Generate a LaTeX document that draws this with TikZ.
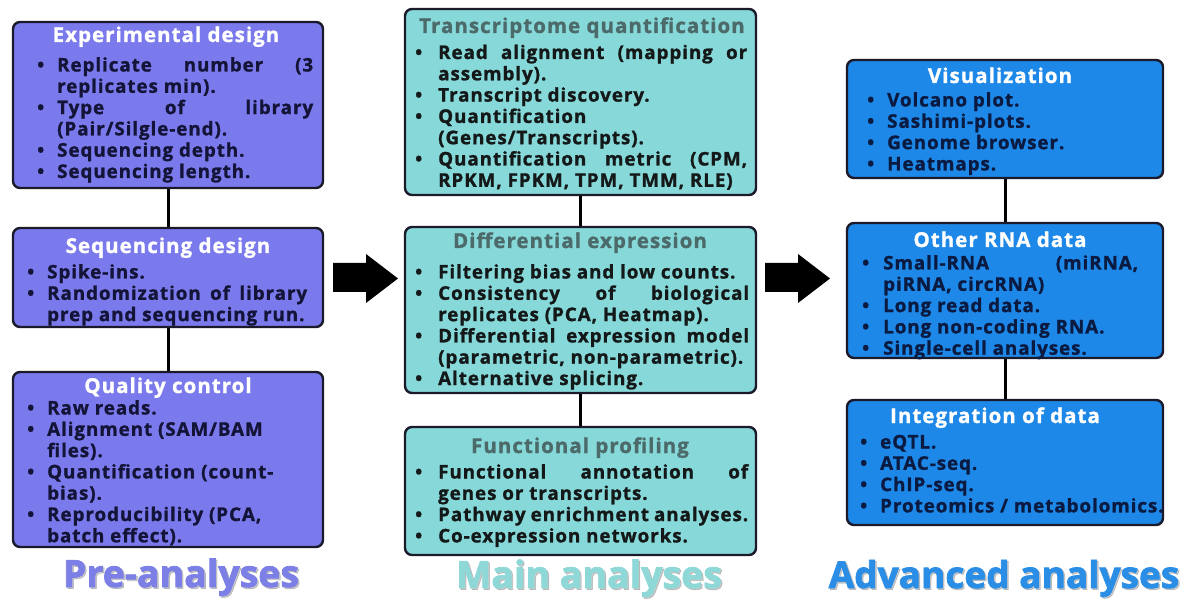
\documentclass[tikz,border=0pt]{standalone}
\usepackage{fontspec}
\setmainfont{Open Sans}
\newfontfamily\bodyfont{Open Sans}[BoldFeatures={LetterSpace=5,FakeBold=1.2}]
\newfontfamily\labelfont{Open Sans}[BoldFeatures={FakeBold=2}]
\definecolor{preFill}{HTML}{7A7AEC}
\definecolor{mainFill}{HTML}{86D8D9}
\definecolor{advFill}{HTML}{1E88E8}
\definecolor{boxLine}{HTML}{1A1A2A}
\definecolor{navyText}{HTML}{141438}
\definecolor{darkText}{HTML}{141818}
\definecolor{advText}{HTML}{0A1A40}
\definecolor{tealTitle}{HTML}{4D6A6A}
\definecolor{preLabel}{HTML}{7C80E6}
\definecolor{mainLabel}{HTML}{8FD8D8}
\definecolor{advLabel}{HTML}{2A8EE6}

% bullet items with hanging indent
\newlength\bulletind
\newcommand\itm[1]{\par\noindent\hangindent=\bulletind\hangafter=1\hbox to\bulletind{\strut\textbullet\hfil}#1}
\newcommand\itemsetup{\hyphenpenalty=10000\relax\tolerance=9999\relax}

\tikzset{
  box/.style={draw=boxLine, line width=2.4bp, rounded corners=7bp, fill=#1,
              minimum width=310bp, inner sep=0pt},
  boxtitle/.style={anchor=base, inner sep=0pt, text=#1,
              font=\bodyfont\fontsize{20.5bp}{23bp}\selectfont\bfseries},
  items/.style n args={3}{anchor=north west, inner sep=0pt, text width=#1,
              align=justify, text=#3,
              font=\bodyfont\fontsize{18.8bp}{21.3bp}\selectfont\bfseries\itemsetup,
              execute at begin node={\setlength\bulletind{#2}}},
  conn/.style={draw=black, line width=3bp},
  bigarrow/.style={fill=black},
  section/.style={anchor=base, inner sep=0pt, text=#1,
              font=\labelfont\fontsize{37.5bp}{40bp}\selectfont\bfseries},
  sectionshadow/.style={anchor=base, inner sep=0pt, text=black!45, opacity=0.45,
              font=\labelfont\fontsize{37.5bp}{40bp}\selectfont\bfseries},
}

\begin{document}
\begin{tikzpicture}[x=1bp, y=-1bp]
\useasboundingbox[fill=white] (0,0) rectangle (1193,603);

% ---------- Pre-analyses ----------
\node[box=preFill, minimum height=166bp] (ed) at (168,105) {};
\node[box=preFill, minimum height=99bp]  (sd) at (168,277.5) {};
\node[box=preFill, minimum height=175bp] (qc) at (168,459.5) {};
\draw[conn] (ed.south) -- (sd.north);
\draw[conn] (sd.south) -- (qc.north);

\node[boxtitle=white] (edT) at (166,42) {Experimental design};
\node[items={276bp}{20bp}{navyText}] (edL) at (37,50) {%
  \itm{Replicate number (3\linebreak replicates min).}
  \itm{Type of library\linebreak (Pair/Silgle-end).}
  \itm{Sequencing depth.}
  \itm{Sequencing length.}\par};

\node[boxtitle=white] (sdT) at (168,253) {Sequencing design};
\node[items={280bp}{20bp}{navyText}] (sdL) at (27,257) {%
  \itm{Spike-ins.}
  \itm{Randomization of library\linebreak prep and sequencing run.}\par};

\node[boxtitle=white] (qcT) at (168,393) {Quality control};
\node[items={290bp}{20bp}{navyText}] (qcL) at (27,393) {%
  \itm{Raw reads.}
  \itm{Alignment (SAM/BAM\newline files).}
  \itm{Quantification (count-\newline bias).}
  \itm{Reproducibility (PCA,\newline batch effect).}\par};

\node[sectionshadow] (preSh) at (182.5,588.5) {Pre-analyses};
\node[section=preLabel] (preS) at (181,587) {Pre-analyses};

% ---------- Main analyses ----------
\node[box=mainFill, minimum width=351bp, minimum height=186bp] (tq) at (580.5,102) {};
\node[box=mainFill, minimum width=351bp, minimum height=166bp] (de) at (580.5,310) {};
\node[box=mainFill, minimum width=351bp, minimum height=128bp] (fp) at (580.5,491) {};
\draw[conn] (tq.south) -- (de.north);
\draw[conn] (de.south) -- (fp.north);

\node[boxtitle=tealTitle] (tqT) at (582,33) {Transcriptome quantification};
\node[items={332bp}{23bp}{darkText}] (tqL) at (415,37.5) {%
  \itm{Read alignment (mapping or\linebreak assembly).}
  \itm{Transcript discovery.}
  \itm{Quantification\newline (Genes/Transcripts).}
  \itm{Quantification metric (CPM,\linebreak RPKM, FPKM, TPM, TMM, RLE)}\par};

\node[boxtitle=tealTitle] (deT) at (580,248) {Differential expression};
\node[items={334bp}{23bp}{darkText}] (deL) at (415,257) {%
  \itm{Filtering bias and low counts.}
  \itm{Consistency of biological\linebreak replicates (PCA, Heatmap).}
  \itm{Differential expression model\linebreak (parametric, non-parametric).}
  \itm{Alternative splicing.}\par};

\node[boxtitle=tealTitle] (fpT) at (580,453) {Functional profiling};
\node[items={333bp}{23bp}{darkText}] (fpL) at (415,457) {%
  \itm{Functional annotation of\linebreak genes or transcripts.}
  \itm{Pathway enrichment analyses.}
  \itm{Co-expression networks.}\par};

\node[sectionshadow] (mainSh) at (590.5,589.5) {Main analyses};
\node[section=mainLabel] (mainS) at (589,588) {Main analyses};

% ---------- Advanced analyses ----------
\node[box=advFill, minimum width=316bp, minimum height=118bp] (vi) at (1005,119) {};
\node[box=advFill, minimum width=316bp, minimum height=135bp] (or) at (1005,290.5) {};
\node[box=advFill, minimum width=316bp, minimum height=125bp] (id) at (1005,462.5) {};
\draw[conn] (vi.south) -- (or.north);
\draw[conn] (or.south) -- (id.north);

\node[boxtitle=white] (viT) at (1000,83) {Visualization};
\node[items={290bp}{20bp}{advText}] (viL) at (867,85) {%
  \itm{Volcano plot.}
  \itm{Sashimi-plots.}
  \itm{Genome browser.}
  \itm{Heatmaps.}\par};

\node[boxtitle=white] (orT) at (1000,247) {Other RNA data};
\node[items={276bp}{21bp}{advText}] (orL) at (862,248) {%
  \itm{Small-RNA (miRNA,\linebreak piRNA, circRNA)}
  \itm{Long read data.}
  \itm{Long non-coding RNA.}
  \itm{Single-cell analyses.}\par};

\node[boxtitle=white] (idT) at (995,423) {Integration of data};
\node[items={320bp}{20bp}{advText}] (idL) at (860,427) {%
  \itm{eQTL.}
  \itm{ATAC-seq.}
  \itm{ChIP-seq.}
  \itm{Proteomics / metabolomics.}\par};

\node[sectionshadow, font=\labelfont\fontsize{37bp}{40bp}\selectfont\bfseries] (advSh) at (1005.5,589.5) {Advanced analyses};
\node[section=advLabel, font=\labelfont\fontsize{37bp}{40bp}\selectfont\bfseries] (advS) at (1004,588) {Advanced analyses};

% ---------- flow arrows between the stages ----------
\fill[bigarrow] (333,263) -- (366,263) -- (366,254) -- (398,278.5)
  -- (366,303) -- (366,292) -- (333,292) -- cycle;
\fill[bigarrow] (765,263) -- (798,263) -- (798,254) -- (830,278.5)
  -- (798,303) -- (798,292) -- (765,292) -- cycle;
\end{tikzpicture}
\end{document}
